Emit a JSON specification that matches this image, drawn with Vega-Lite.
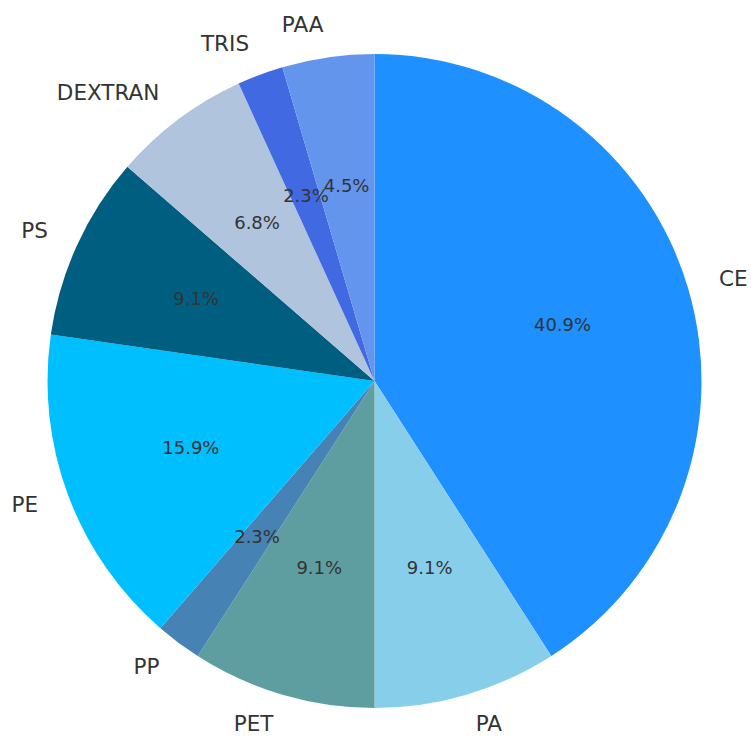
{
  "$schema": "https://vega.github.io/schema/vega-lite/v6.json",
  "width": 749,
  "height": 710,
  "autosize": "none",
  "padding": {"top": 26, "left": 0, "right": 2, "bottom": 0},
  "background": "white",
  "view": {"stroke": null},
  "data": {
    "values": [
      {"cat": "CE", "value": 18, "pct": "40.9%", "o": 1},
      {"cat": "PA", "value": 4, "pct": "9.1%", "o": 2},
      {"cat": "PET", "value": 4, "pct": "9.1%", "o": 3},
      {"cat": "PP", "value": 1, "pct": "2.3%", "o": 4},
      {"cat": "PE", "value": 7, "pct": "15.9%", "o": 5},
      {"cat": "PS", "value": 4, "pct": "9.1%", "o": 6},
      {"cat": "DEXTRAN", "value": 3, "pct": "6.8%", "o": 7},
      {"cat": "TRIS", "value": 1, "pct": "2.3%", "o": 8},
      {"cat": "PAA", "value": 2, "pct": "4.5%", "o": 9}
    ]
  },
  "encoding": {
    "theta": {"field": "value", "type": "quantitative", "stack": true},
    "order": {"field": "o", "type": "quantitative"}
  },
  "layer": [
    {
      "mark": {"type": "arc", "outerRadius": 327},
      "encoding": {
        "color": {
          "field": "cat",
          "type": "nominal",
          "scale": {
            "domain": ["CE", "PA", "PET", "PP", "PE", "PS", "DEXTRAN", "TRIS", "PAA"],
            "range": ["#1E90FF", "#87CEEB", "#5F9EA0", "#4682B4", "#00BFFF", "#005F80", "#B0C4DE", "#4169E1", "#6495ED"]
          },
          "legend": null
        }
      }
    },
    {
      "mark": {"type": "text", "radius": 196, "fontSize": 18, "font": "DejaVu Sans", "fill": "#333333", "align": "center", "baseline": "middle"},
      "encoding": {"text": {"field": "pct"}}
    },
    {
      "mark": {"type": "text", "radius": 359, "fontSize": 21.5, "font": "DejaVu Sans", "fill": "#333333", "align": "left", "baseline": "middle"},
      "encoding": {
        "text": {"field": "cat"},
        "opacity": {"condition": {"test": "datum.cat === 'CE' || datum.cat === 'PA'", "value": 1}, "value": 0}
      }
    },
    {
      "mark": {"type": "text", "radius": 359, "fontSize": 21.5, "font": "DejaVu Sans", "fill": "#333333", "align": "right", "baseline": "middle"},
      "encoding": {
        "text": {"field": "cat"},
        "opacity": {"condition": {"test": "datum.cat === 'CE' || datum.cat === 'PA'", "value": 0}, "value": 1}
      }
    }
  ]
}
